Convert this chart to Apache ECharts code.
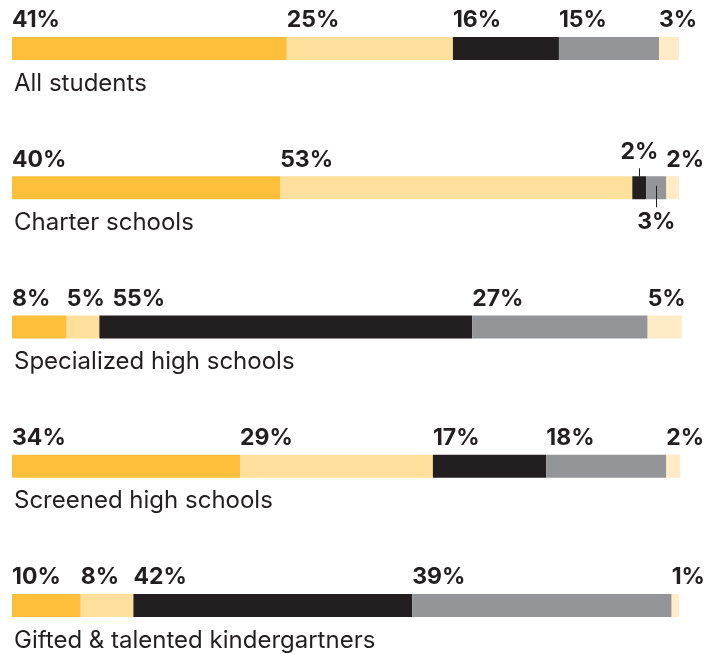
<!DOCTYPE html>
<html>
<head>
<meta charset="utf-8">
<script src="https://cdn.jsdelivr.net/npm/echarts@6/dist/echarts.min.js"></script>
<style>
  html, body { margin: 0; padding: 0; background: #fff; }
  #chart { width: 712px; height: 654px; }
</style>
</head>
<body>
<div id="chart"></div>
<script>
var categories = ['All students', 'Charter schools', 'Specialized high schools', 'Screened high schools', 'Gifted & talented kindergartners'];
var seriesNames = ['Hispanic', 'Black', 'Asian', 'White', 'Other'];
var hispanic = [41.2, 40.2, 8.2, 34.2, 10.3];
var black    = [24.9, 52.8, 4.9, 28.9, 7.9];
var asian    = [15.9, 2.1, 55.9, 17.0, 41.8];
var white    = [15.0, 3.0, 26.3, 18.0, 38.9];
var other    = [3.0, 1.9, 5.1, 2.1, 1.1];
var hispanicLabels = ['41%', '40%', '8%', '34%', '10%'];
var blackLabels    = ['25%', '53%', '5%', '29%', '8%'];
var asianLabels    = ['16%', '2%', '55%', '17%', '42%'];
var whiteLabels    = ['15%', '3%', '27%', '18%', '39%'];
var otherLabels    = ['3%', '2%', '5%', '2%', '1%'];

var values = [hispanic, black, asian, white, other];
var labels = [hispanicLabels, blackLabels, asianLabels, whiteLabels, otherLabels];
var colors = ['#FEC03B', '#FEDF9C', '#231F20', '#939598', '#FFEBC6'];
var FONT = 'Inter';
var TEXT = '#231F20';

var chart = echarts.init(document.getElementById('chart'));

var series = values.map(function (arr, si) {
  return {
    name: seriesNames[si],
    type: 'bar',
    stack: 'total',
    barWidth: 23,
    itemStyle: { color: colors[si] },
    label: {
      show: true,
      position: [0, -5],
      align: 'left',
      verticalAlign: 'bottom',
      fontFamily: FONT,
      fontWeight: 'bold',
      fontSize: 23,
      color: TEXT,
      formatter: function (p) { return labels[si][p.dataIndex]; }
    },
    data: arr.map(function (v, i) {
      var d = { value: v };
      if (i === 1 && si === 2) {
        d.label = { position: ['50%', -13], align: 'center', verticalAlign: 'bottom' };
      }
      if (i === 1 && si === 3) {
        d.label = { position: ['50%', 34], align: 'center', verticalAlign: 'top' };
      }
      if (i === 2 && si === 2) {
        d.label = { position: [13, -5] };
      }
      return d;
    })
  };
});

chart.setOption({
  animation: false,
  grid: { left: 12, top: 48.5, width: 673.67, height: 557 },
  xAxis: { type: 'value', min: 0, max: 101, show: false },
  yAxis: {
    type: 'category',
    inverse: true,
    boundaryGap: false,
    data: categories,
    axisLine: { show: false },
    axisTick: { show: false },
    splitLine: { show: false },
    axisLabel: {
      inside: true,
      margin: 2,
      align: 'left',
      verticalAlign: 'top',
      padding: [23, 0, 0, 0],
      lineHeight: 24,
      fontFamily: FONT,
      fontSize: 24,
      color: TEXT
    }
  },
  series: series
});

// leader lines for the small Charter-school segments
var ci = 1;
var yc = chart.convertToPixel({ yAxisIndex: 0 }, categories[ci]);
var asianMid = hispanic[ci] + black[ci] + asian[ci] / 2;
var whiteMid = hispanic[ci] + black[ci] + asian[ci] + white[ci] / 2;
var xa = Math.round(chart.convertToPixel({ xAxisIndex: 0 }, asianMid)) + 0.5;
var xw = Math.round(chart.convertToPixel({ xAxisIndex: 0 }, whiteMid)) + 0.5;
chart.setOption({
  graphic: [
    { type: 'line', shape: { x1: xa, y1: yc - 11.5 - 8, x2: xa, y2: yc - 11.5 }, style: { stroke: TEXT, lineWidth: 1 }, z: 10 },
    { type: 'line', shape: { x1: xw, y1: yc - 2, x2: xw, y2: yc + 11.5 + 8 }, style: { stroke: TEXT, lineWidth: 1 }, z: 10 }
  ]
});
</script>
</body>
</html>
